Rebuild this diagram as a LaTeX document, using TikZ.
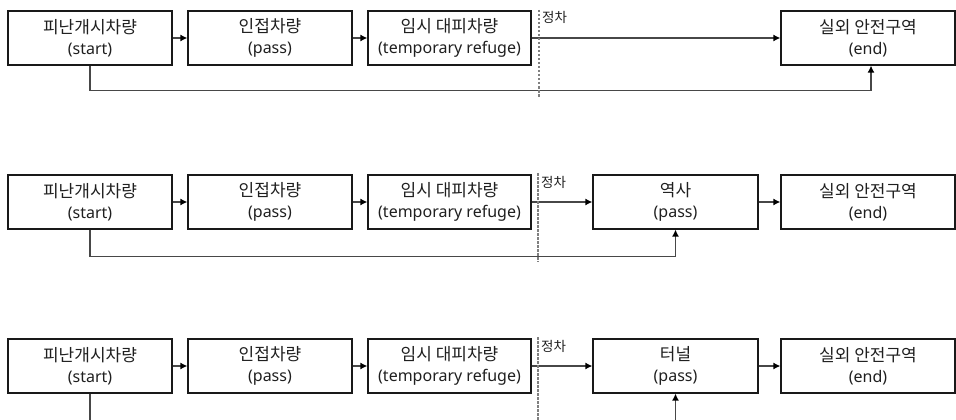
\documentclass[tikz,border=0pt]{standalone}
\usepackage{fontspec}
\setmainfont{Noto Sans}
\newfontfamily\kr{Noto Sans CJK KR}
\usetikzlibrary{arrows.meta}
\begin{document}
\begin{tikzpicture}[x=1pt,y=-1pt,
  box/.style={draw=black!90, line width=1.2pt, minimum height=54pt, inner sep=0pt, align=center, text=black!88, font=\fontsize{16}{21}\selectfont},
  kt/.style={},
  conn/.style={draw=black!72, line width=1.3pt, -{Latex[length=7pt,width=7pt,fill=black,color=black]}},
  plainconn/.style={draw=black!72, line width=1.3pt},
  stopline/.style={draw=black!50, line width=1.4pt, dash pattern=on 2.5pt off 1.5pt},
  stoplabel/.style={font=\kr\fontsize{13.5}{15}\selectfont, text=black!88, anchor=west, inner sep=0pt}
]
\useasboundingbox (0,0) rectangle (956,420);
\coordinate (bot) at (0,421);

% ---------- row 1 ----------
\node[box, minimum width=164pt] (a1) at (90,38) {{\kr\fontsize{17}{21}\selectfont 피난개시차량}\\(start)};
\node[box, minimum width=164pt] (a2) at (270,38) {{\kr\fontsize{17}{21}\selectfont 인접차량}\\(pass)};
\node[box, minimum width=163pt] (a3) at (449.5,38) {{\kr\fontsize{17}{21}\selectfont 임시 대피차량}\\(temporary refuge)};
\node[box, minimum width=174pt] (e1) at (868,38) {{\kr\fontsize{17}{21}\selectfont 실외 안전구역}\\(end)};
\draw[conn] (a1.east) -- (a2.west);
\draw[conn] (a2.east) -- (a3.west);
\draw[conn] (a3.east) -- (e1.west);
\draw[conn] (a1.south) -- ++(0,25) -| ([xshift=3pt]e1.south);
\coordinate (d1t) at (539,10);
\coordinate (d1b) at (539,97);
\draw[stopline] (d1t) -- (d1b);
\node[stoplabel] (l1) at (542,17) {정차};

% ---------- row 2 ----------
\node[box, minimum width=164pt] (b1) at (90,202) {{\kr\fontsize{17}{21}\selectfont 피난개시차량}\\(start)};
\node[box, minimum width=164pt] (b2) at (270,202) {{\kr\fontsize{17}{21}\selectfont 인접차량}\\(pass)};
\node[box, minimum width=163pt] (b3) at (449.5,202) {{\kr\fontsize{17}{21}\selectfont 임시 대피차량}\\(temporary refuge)};
\node[box, minimum width=165pt] (s2) at (675.5,202) {{\kr\fontsize{17}{21}\selectfont 역사}\\(pass)};
\node[box, minimum width=174pt] (e2) at (868,202) {{\kr\fontsize{17}{21}\selectfont 실외 안전구역}\\(end)};
\draw[conn] (b1.east) -- (b2.west);
\draw[conn] (b2.east) -- (b3.west);
\draw[conn] (b3.east) -- (s2.west);
\draw[conn] (s2.east) -- (e2.west);
\draw[conn] (b1.south) -- ++(0,27) -| (s2.south);
\coordinate (d2t) at (538,173);
\coordinate (d2b) at (538,262);
\draw[stopline] (d2t) -- (d2b);
\node[stoplabel] (l2) at (541,182) {정차};

% ---------- row 3 ----------
\node[box, minimum width=164pt] (c1) at (90,366) {{\kr\fontsize{17}{21}\selectfont 피난개시차량}\\(start)};
\node[box, minimum width=164pt] (c2) at (270,366) {{\kr\fontsize{17}{21}\selectfont 인접차량}\\(pass)};
\node[box, minimum width=163pt] (c3) at (449.5,366) {{\kr\fontsize{17}{21}\selectfont 임시 대피차량}\\(temporary refuge)};
\node[box, minimum width=165pt] (s3) at (675.5,366) {{\kr\fontsize{17}{21}\selectfont 터널}\\(pass)};
\node[box, minimum width=174pt] (e3) at (868,366) {{\kr\fontsize{17}{21}\selectfont 실외 안전구역}\\(end)};
\draw[conn] (c1.east) -- (c2.west);
\draw[conn] (c2.east) -- (c3.west);
\draw[conn] (c3.east) -- (s3.west);
\draw[conn] (s3.east) -- (e3.west);
\draw[plainconn] (c1.south) -- (c1.south |- bot);
\draw[conn] (s3.south |- bot) -- (s3.south);
\coordinate (d3t) at (538,337);
\coordinate (d3b) at (538,421);
\draw[stopline] (d3t) -- (d3b);
\node[stoplabel] (l3) at (541,346) {정차};
\end{tikzpicture}
\end{document}
